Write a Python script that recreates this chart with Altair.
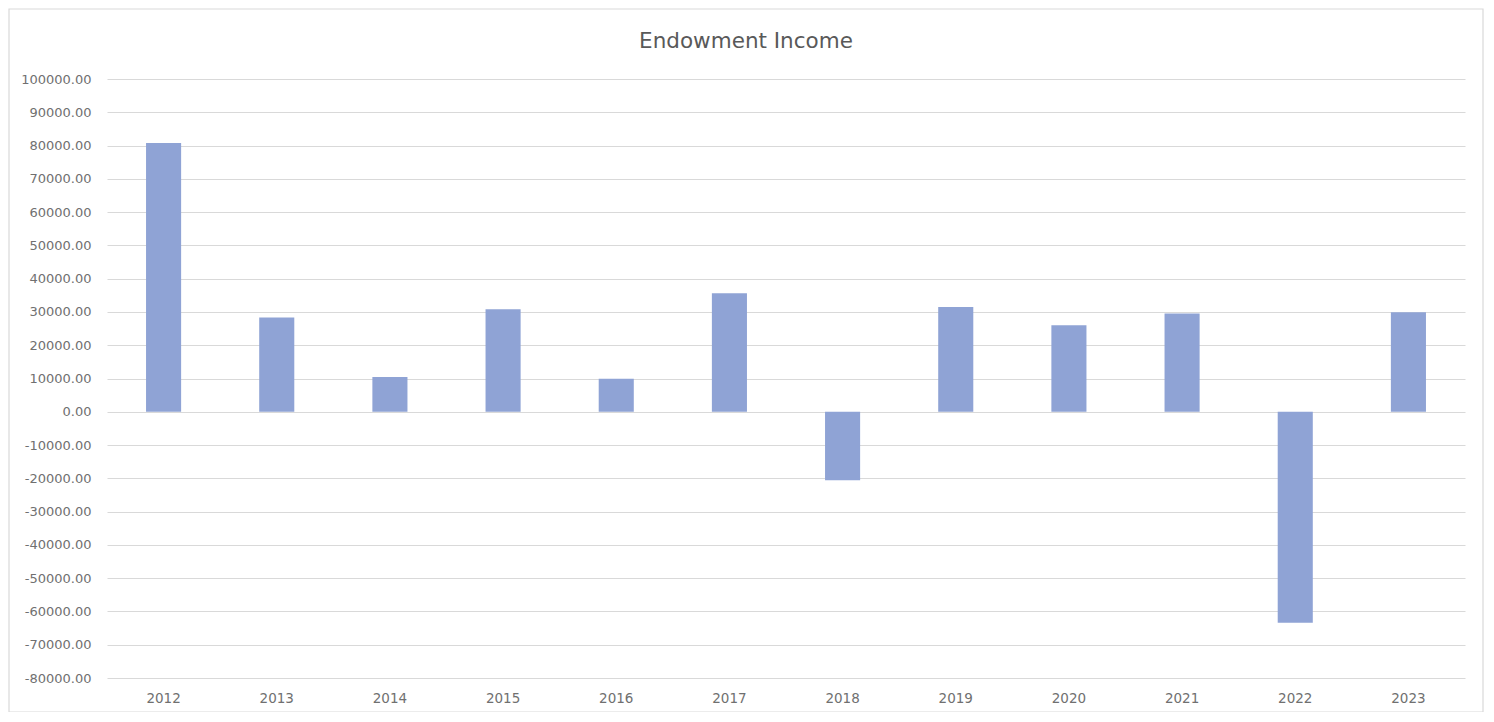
import altair as alt
import pandas as pd

years = ["2012", "2013", "2014", "2015", "2016", "2017",
         "2018", "2019", "2020", "2021", "2022", "2023"]
income = [80800, 28300, 10450, 30800, 9900, 35600,
          -20600, 31500, 26000, 29500, -63400, 29900]
y_ticks = list(range(-80000, 100001, 10000))

df = pd.DataFrame({"Year": years, "Income": income})

FONT = "DejaVu Sans"
LABEL = "#707070"

bars = alt.Chart(df).mark_bar(color="#8FA3D5").encode(
    x=alt.X(
        "Year:N", sort=years, title=None,
        scale=alt.Scale(paddingInner=0.69, paddingOuter=0.345),
        axis=alt.Axis(labelAngle=0, ticks=False, tickSize=0, domain=False, grid=False,
                      labelPadding=13, labelFontSize=13.5, labelColor=LABEL,
                      labelFont=FONT),
    ),
    y=alt.Y(
        "Income:Q", title=None,
        scale=alt.Scale(domain=[-80000, 100000], nice=False, zero=False),
        axis=alt.Axis(values=y_ticks, format=".2f", ticks=False, tickSize=0, domain=False,
                      labelExpr="replace(datum.label, '\u2212', '-')",
                      gridColor="#d9d9d9", gridWidth=1.2, labelPadding=16,
                      labelFontSize=13, labelColor=LABEL, labelFont=FONT),
    ),
)

frame = alt.Chart(alt.Data(values=[{"f": 1}])).mark_rect(
    fill="transparent", stroke="#d9d9d9", strokeWidth=1.2
).encode(
    x=alt.value(-98), x2=alt.value(1376), y=alt.value(-70), y2=alt.value(633)
)

chart = alt.layer(frame, bars).properties(
    width=1358,
    height=599,
    title=alt.TitleParams("Endowment Income", fontSize=21.5, font=FONT, color="#595959",
                          fontWeight="normal", anchor="middle", frame="bounds",
                          baseline="alphabetic", offset=-61),
    autosize=alt.AutoSizeParams(type="none"),
    padding={"left": 99, "top": 71, "right": 19, "bottom": 34},
    background="white",
).configure_view(stroke=None)

chart.save("out.html", embed_options={"renderer": "svg", "actions": False})
